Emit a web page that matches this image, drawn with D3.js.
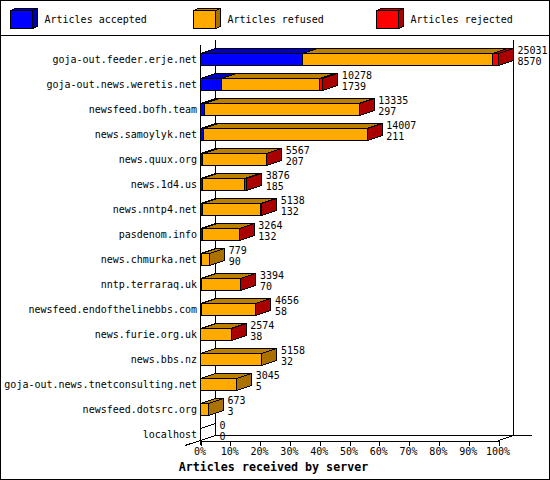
<!DOCTYPE html>
<html>
<head>
<meta charset="utf-8">
<script src="https://cdn.jsdelivr.net/npm/d3@7"></script>
<style>
  body { margin: 0; background: #fff; }
  svg { display: block; }
  text { font-family: "DejaVu Sans Mono", "Liberation Mono", monospace; font-size: 10px; fill: #000; }
  .mark { shape-rendering: crispEdges; stroke: #000; stroke-width: 1; }
  .title { font-size: 11.67px; font-weight: bold; }
</style>
</head>
<body>
<div id="chart"></div>
<script>
// values
const servers = ["goja-out.feeder.erje.net", "goja-out.news.weretis.net", "newsfeed.bofh.team",
  "news.samoylyk.net", "news.quux.org", "news.1d4.us", "news.nntp4.net", "pasdenom.info",
  "news.chmurka.net", "nntp.terraraq.uk", "newsfeed.endofthelinebbs.com", "news.furie.org.uk",
  "news.bbs.nz", "goja-out.news.tnetconsulting.net", "newsfeed.dotsrc.org", "localhost"];
const accepted = [8570, 1739, 297, 211, 207, 185, 132, 132, 90, 70, 58, 38, 32, 5, 3, 0];
const refused = [15981, 8249, 13023, 13781, 5350, 3481, 4916, 3122, 689, 3316, 4568, 2531, 5126, 3040, 670, 0];
const rejected = [480, 290, 15, 15, 10, 210, 90, 10, 0, 8, 30, 5, 0, 0, 0, 0];
const totals = [25031, 10278, 13335, 14007, 5567, 3876, 5138, 3264, 779, 3394, 4656, 2574, 5158, 3045, 673, 0];
const percentTicks = [0, 10, 20, 30, 40, 50, 60, 70, 80, 90, 100];
const seriesNames = ["Articles accepted", "Articles refused", "Articles rejected"];

const frontColors = ["#0000ff", "#ffaa00", "#ff0000"];
const topColors = ["#0000bb", "#bb8000", "#bb0000"];
const sideColors = ["#0000aa", "#aa7000", "#aa0000"];

const width = 550, height = 480;
const depthX = 15, depthY = 5, halfBar = 6;

const svg = d3.select("#chart").append("svg")
  .attr("width", width)
  .attr("height", height);

svg.append("rect").attr("class", "mark")
  .attr("x", 0.5).attr("y", 0.5)
  .attr("width", width - 1).attr("height", height - 1)
  .attr("fill", "#fff");

svg.append("line").attr("class", "mark")
  .attr("x1", 0).attr("x2", width)
  .attr("y1", 35.5).attr("y2", 35.5);

// legend
const legendX = d3.scalePoint().domain(seriesNames).range([10.5, 376.5]);
const legend = svg.append("g").selectAll("g")
  .data(seriesNames)
  .enter().append("g")
  .attr("transform", d => "translate(" + legendX(d) + ",10.5)");

legend.append("polygon").attr("class", "mark")
  .attr("points", "0,0 5,-2 27,-2 22,0")
  .attr("fill", (d, i) => topColors[i]);
legend.append("polygon").attr("class", "mark")
  .attr("points", "22,0 27,-2 27,16 22,18")
  .attr("fill", (d, i) => sideColors[i]);
legend.append("rect").attr("class", "mark")
  .attr("width", 22).attr("height", 18)
  .attr("fill", (d, i) => frontColors[i]);
legend.append("text")
  .attr("x", 34).attr("y", 9)
  .attr("dy", "0.32em")
  .text(d => d);

// scales, bars are a share of the biggest server
const x = d3.scaleLinear().domain([0, 100]).range([200.5, 498.5]);
const y = d3.scalePoint().domain(servers).range([59.5, 434.5]);
const maxTotal = d3.max(totals);
const pct = v => v / maxTotal * 100;

// back wall and floor
const walls = [
  [x(0), 45, x(0), 445],
  [x(0) + depthX, 40, x(0) + depthX, 435.5],
  [x(100) + depthX, 40, x(100) + depthX, 435.5],
  [x(0) + depthX, 435.5, 531.5, 435.5],
  [185, 445.5, x(0) + depthX, 435.5],
  [x(100), 440.5, x(100) + depthX, 435.5]
];
svg.append("g").selectAll("line")
  .data(walls)
  .enter().append("line")
  .attr("class", "mark")
  .attr("x1", d => d[0]).attr("y1", d => d[1])
  .attr("x2", d => d[2]).attr("y2", d => d[3]);

// bottom axis
const xAxis = svg.append("g")
  .attr("transform", "translate(0,440.5)")
  .call(d3.axisBottom(x).tickValues(percentTicks).tickSize(5).tickPadding(2).tickFormat(d => d + "%"));
xAxis.selectAll("path, line").attr("class", "mark");
xAxis.select(".domain").attr("fill", "none");
xAxis.selectAll("text").attr("dx", "-1");
xAxis.attr("font-family", null).attr("font-size", null);

// server names
const yAxis = svg.append("g")
  .attr("transform", "translate(197,0)")
  .call(d3.axisLeft(y).tickSize(0).tickPadding(0));
yAxis.select(".domain").remove();
yAxis.attr("font-family", null).attr("font-size", null);

// bars, one 3d box per segment
servers.forEach(function (name, i) {
  const parts = [accepted[i], refused[i], rejected[i]];
  const top = y(name) - halfBar, bottom = y(name) + halfBar;
  const row = svg.append("g");

  if (totals[i] === 0) {
    row.append("line").attr("class", "mark")
      .attr("x1", x(0)).attr("y1", top)
      .attr("x2", x(0) + depthX).attr("y2", top - depthY);
  }

  let sum = 0;
  let last = parts.reduce((acc, v, k) => v > 0 ? k : acc, -1);
  parts.forEach(function (v, k) {
    if (v === 0) return;
    const x0 = x(pct(sum));
    const x1 = x(pct(sum + v));
    sum += v;

    row.append("polygon").attr("class", "mark")
      .attr("fill", topColors[k])
      .attr("points", [[x0, top], [x0 + depthX, top - depthY], [x1 + depthX, top - depthY], [x1, top]].join(" "));
    if (k === last) {
      row.append("polygon").attr("class", "mark")
        .attr("fill", sideColors[k])
        .attr("points", [[x1, top], [x1 + depthX, top - depthY], [x1 + depthX, bottom - depthY], [x1, bottom]].join(" "));
    }
    row.append("rect").attr("class", "mark")
      .attr("fill", frontColors[k])
      .attr("x", x0).attr("y", top)
      .attr("width", x1 - x0).attr("height", bottom - top);
  });

  // total and accepted counts next to the box
  const labelX = x(pct(totals[i])) + 19;
  row.append("text").attr("x", labelX).attr("y", y(name) - 9).attr("dy", "0.32em").text(totals[i]);
  row.append("text").attr("x", labelX).attr("y", y(name) + 2).attr("dy", "0.32em").text(accepted[i]);
});

svg.append("text").attr("class", "title")
  .attr("x", 273.5).attr("y", 467)
  .attr("dy", "0.32em")
  .attr("text-anchor", "middle")
  .text("Articles received by server");
</script>
</body>
</html>
